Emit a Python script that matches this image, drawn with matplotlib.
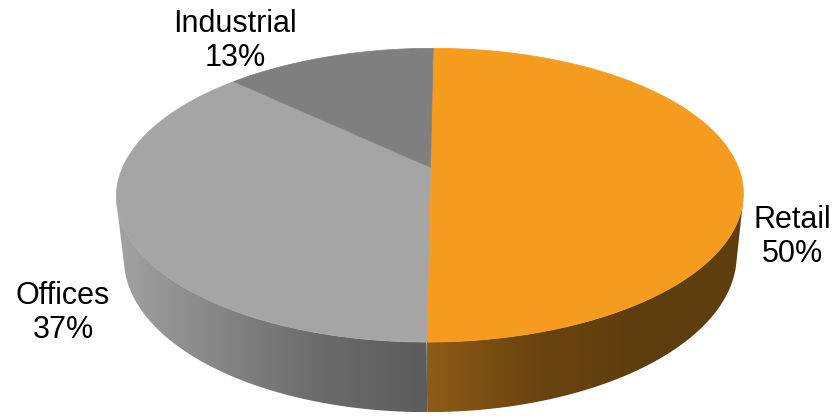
import numpy as np
import matplotlib.pyplot as plt
from matplotlib.patches import Polygon
from matplotlib.colors import LinearSegmentedColormap

plt.rcParams['font.family'] = ['Liberation Sans', 'DejaVu Sans']

# data
labels = ['Retail', 'Offices', 'Industrial']
shares = [50, 37, 13]
top_colors = ['#f59c1e', '#a5a5a5', '#7f7f7f']
side_cmaps = [
    LinearSegmentedColormap.from_list('r', ['#8e5c16', '#6b440f', '#5e3d0e', '#5e3d0e']),
    LinearSegmentedColormap.from_list('o', ['#a2a2a2', '#858585', '#6a6a6a', '#5c5c5c']),
    LinearSegmentedColormap.from_list('i', ['#707070', '#505050']),
]
label_pos = [(792, 237), (63, 313), (235, 41)]

# 3d view: camera elevation, distance, side offset, focal length, disc thickness
elev = np.arcsin(0.46)
dist = 4.674
cam_x = 0.0536
focal = 1438.6
thick = 0.2277
x0s, y0s = 447.0, 167.3

fig = plt.figure(figsize=(8.36, 4.16), dpi=100)
ax = fig.add_axes([0, 0, 1, 1])
ax.set_xlim(0, 836)
ax.set_ylim(416, 0)
ax.axis('off')


def proj(a, z=0.0):
    X, Y = np.cos(a), np.sin(a)
    up = Y * np.sin(elev) + z * np.cos(elev)
    d = dist + Y * np.cos(elev) - z * np.sin(elev)
    return x0s + focal * (X - cam_x) / d, y0s - focal * up / d


def rim_visible(a):
    # outward normal of the rim facing the camera
    return cam_x * np.cos(a) - 1 - dist * np.cos(elev) * np.sin(a) > 0


# slices go clockwise starting at 12 o'clock
fr = np.array(shares) / sum(shares)
ends = np.cumsum(fr)
starts = ends - fr
spans = [(np.pi / 2 - 2 * np.pi * e, np.pi / 2 - 2 * np.pi * s) for s, e in zip(starts, ends)]

for (a0, a1), cm in zip(spans, side_cmaps):
    t = np.linspace(a0, a1, 2000)
    t = t[rim_visible(t)]
    if len(t) < 2:
        continue
    xt, yt = proj(t)
    xb, yb = proj(t[::-1], -thick)
    poly = np.column_stack([np.r_[xt, xb], np.r_[yt, yb]])
    patch = Polygon(poly, closed=True, facecolor='none', edgecolor='none')
    ax.add_patch(patch)
    gx0, gx1 = poly[:, 0].min(), poly[:, 0].max()
    gy0, gy1 = poly[:, 1].min(), poly[:, 1].max()
    grad = np.linspace(0, 1, 256)[None, :]
    im = ax.imshow(grad, cmap=cm, extent=[gx0, gx1, gy1, gy0], aspect='auto', zorder=1)
    im.set_clip_path(patch)

# top face
cxs, cys = x0s - focal * cam_x / dist, y0s
for (a0, a1), c in zip(spans, top_colors):
    t = np.linspace(a0, a1, 300)
    xs, ys = proj(t)
    poly = np.column_stack([np.r_[cxs, xs], np.r_[cys, ys]])
    ax.add_patch(Polygon(poly, closed=True, facecolor=c, edgecolor=c, lw=0.5, zorder=2))

for lab, p, (x, y) in zip(labels, shares, label_pos):
    ax.text(x, y, f'{lab}\n{p}%', ha='center', va='center', fontsize=22,
            linespacing=1.2, color='#000000')

fig.savefig('out.png', dpi=100)
